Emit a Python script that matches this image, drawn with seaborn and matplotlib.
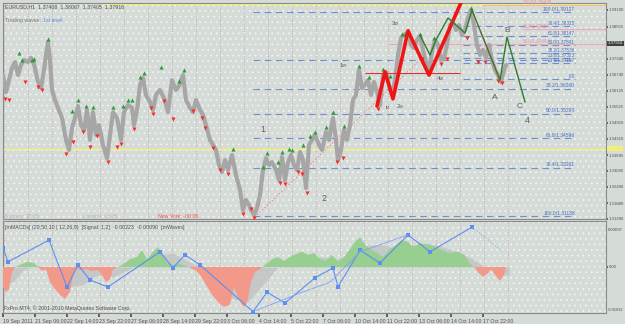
import numpy as np
import pandas as pd
import matplotlib
matplotlib.use('Agg')
import matplotlib.pyplot as plt
import seaborn as sns

# ---- price (EURUSD H1), bar index vs price ----
price_bar = [0, 3, 6, 9, 12, 15, 18, 21, 25, 28, 31, 35, 38, 41, 43, 45, 47, 49, 52, 55,
             59, 63, 66, 69, 72, 75, 78, 81, 84, 87, 90, 93, 96, 100, 104, 107, 110, 114, 118, 121,
             125, 129, 131, 134, 137, 140, 143, 147, 150, 153, 157, 161, 165, 169, 173, 176, 180, 183, 187, 190,
             193, 197, 200, 203, 207, 210, 213, 216, 219, 222, 225, 229, 233, 237, 240, 243, 246, 248, 251, 254,
             257, 260, 263, 266, 269, 273, 276, 279, 282, 285, 288, 291, 294, 297, 300, 303, 306, 309, 312, 316,
             319, 323, 326, 330, 333, 335, 338, 341, 344, 347, 350, 353, 356, 359, 362, 365, 368, 371, 374, 377,
             380, 383, 386, 389, 392, 395, 398, 401, 405, 408, 411, 414, 417, 420, 423, 426, 429, 432, 435, 438,
             441, 444, 447, 450, 453, 456, 459, 462, 465, 468, 471, 474, 477, 480, 483, 486, 489, 492, 495, 498,
             501, 503]
price_val = [1.3672, 1.3608, 1.3653, 1.3699, 1.3721, 1.3672, 1.3710, 1.3729, 1.3721, 1.3737, 1.3714, 1.3646, 1.3623, 1.3691, 1.3748, 1.3797, 1.3729, 1.3616, 1.3578, 1.3548,
             1.3510, 1.3427, 1.3389, 1.3472, 1.3510, 1.3555, 1.3483, 1.3464, 1.3540, 1.3427, 1.3532, 1.3446, 1.3483, 1.3408, 1.3358, 1.3446, 1.3532, 1.3510, 1.3427, 1.3532,
             1.3559, 1.3548, 1.3483, 1.3540, 1.3635, 1.3661, 1.3597, 1.3570, 1.3540, 1.3597, 1.3616, 1.3585, 1.3532, 1.3653, 1.3616, 1.3631, 1.3672, 1.3578, 1.3548, 1.3532,
             1.3578, 1.3540, 1.3521, 1.3483, 1.3427, 1.3408, 1.3389, 1.3332, 1.3306, 1.3351, 1.3313, 1.3370, 1.3294, 1.3238, 1.3162, 1.3200, 1.3181, 1.3162, 1.3143, 1.3170,
             1.3219, 1.3313, 1.3358, 1.3332, 1.3343, 1.3313, 1.3275, 1.3362, 1.3275, 1.3343, 1.3370, 1.3332, 1.3313, 1.3381, 1.3351, 1.3245, 1.3408, 1.3427, 1.3446, 1.3408,
             1.3389, 1.3457, 1.3427, 1.3510, 1.3427, 1.3351, 1.3389, 1.3464, 1.3427, 1.3483, 1.3578, 1.3597, 1.3691, 1.3623, 1.3635, 1.3653, 1.3597, 1.3646, 1.3608, 1.3559,
             1.3672, 1.3684, 1.3635, 1.3597, 1.3653, 1.3748, 1.3812, 1.3823, 1.3835, 1.3786, 1.3774, 1.3805, 1.3820, 1.3767, 1.3721, 1.3691, 1.3759, 1.3805, 1.3786, 1.3729,
             1.3737, 1.3786, 1.3861, 1.3873, 1.3842, 1.3861, 1.3823, 1.3842, 1.3888, 1.3918, 1.3861, 1.3786, 1.3748, 1.3767, 1.3737, 1.3786, 1.3729, 1.3691, 1.3672, 1.3646,
             1.3691, 1.3710]

# fractal arrows
up_bar = [16, 19, 29, 31, 45, 69, 75, 83, 90, 110, 120, 125, 129, 137, 141, 158, 176, 181, 230, 260,
          264, 275, 279, 286, 289, 300, 307, 312, 323, 330, 341, 356, 366, 380, 387, 399, 402, 405, 417, 431, 468]
up_val = [1.3752, 1.3725, 1.3725, 1.3729, 1.3805, 1.3532, 1.3574, 1.3551, 1.3548, 1.3548, 1.3551, 1.3574, 1.3574, 1.3661, 1.3676, 1.3699, 1.3646, 1.3687, 1.3389, 1.3321,
          1.3374, 1.3340, 1.3378, 1.3389, 1.3385, 1.3404, 1.3438, 1.3453, 1.3472, 1.3529, 1.3476, 1.3703, 1.3661, 1.3691, 1.3665, 1.3824, 1.3824, 1.3839, 1.3824, 1.3808, 1.3922]
dn_bar = [2, 6, 22, 35, 39, 63, 70, 80, 87, 94, 105, 114, 118, 131, 148, 150, 161, 170, 190, 199,
          202, 210, 217, 225, 240, 248, 251, 277, 282, 295, 299, 304, 334, 340, 375, 419, 438, 444, 464, 475, 482, 495, 499]
dn_val = [1.3585, 1.3581, 1.3650, 1.3631, 1.3619, 1.3378, 1.3423, 1.3461, 1.3404, 1.3446, 1.3347, 1.3404, 1.3415, 1.3472, 1.3551, 1.3529, 1.3578, 1.3510, 1.3540, 1.3514,
          1.3476, 1.3400, 1.3317, 1.3302, 1.3151, 1.3170, 1.3136, 1.3268, 1.3264, 1.3309, 1.3302, 1.3230, 1.3347, 1.3362, 1.3548, 1.3737, 1.3718, 1.3737, 1.3816, 1.3725, 1.3725, 1.3653, 1.3646]

# wave lines
red_wave_bar = [374, 382, 390, 405, 426, 460]
red_wave_val = [1.3555, 1.3684, 1.3582, 1.3839, 1.3672, 1.3963]
green_wave_bar = [417, 427, 433, 445, 462, 469, 497, 504, 522]
green_wave_val = [1.3823, 1.3748, 1.3805, 1.3888, 1.3831, 1.3918, 1.3653, 1.3816, 1.3570]
trend_bar = [252, 417]
trend_val = [1.3136, 1.3729]

# fibonacci levels
fib1_val = [1.3910, 1.3729, 1.3620, 1.3525, 1.3434, 1.3321, 1.3139]
fib1_lab = ['100.0/1.39127', '', '38.2/1.36280', '50.0/1.35290', '61.8/1.34596', '76.4/1.33261', '100.0/1.31138']
fib2_val = [1.3857, 1.3820, 1.3786, 1.3755, 1.3737, 1.3718, 1.3657]
fib2_lab = ['76.4/1.38325', '61.8/1.38147', '50.0/1.37841', '38.2/1.37536', '23.6/1.37323', '23.6/1.37157', '0.0']
pink_val = [1.3937, 1.3846, 1.3790]
pink_lab = ['100.0/1.39435', '61.8/1.38650', '50.0/1.37843']

price_ticks = [1.39190, 1.38555, 1.37340, 1.36740, 1.36125, 1.35525, 1.34910,
               1.34310, 1.33695, 1.33095, 1.32490, 1.31880, 1.31280]
time_labels = ['19 Sep 2011', '21 Sep 06:00', '22 Sep 14:00', '23 Sep 22:00', '27 Sep 06:00',
               '28 Sep 14:00', '29 Sep 22:00', '3 Oct 06:00', '4 Oct 14:00', '5 Oct 22:00',
               '7 Oct 06:00', '10 Oct 14:00', '11 Oct 22:00', '13 Oct 06:00', '14 Oct 14:00', '17 Oct 22:00']

# ---- oscillator window (values in pips) ----
macd_bar = [0, 3, 6, 9, 12, 19, 25, 31, 35, 39, 43, 47, 52, 57, 62, 67, 70, 73, 77, 83,
            89, 95, 99, 103, 107, 110, 115, 122, 127, 134, 139, 144, 150, 155, 160, 164, 169, 177, 185, 192,
            197, 203, 209, 215, 221, 227, 231, 235, 240, 244, 248, 252, 257, 263, 269, 275, 281, 287, 293, 299,
            305, 311, 317, 323, 329, 335, 341, 347, 352, 357, 362, 367, 374, 380, 387, 393, 399, 405, 410, 417,
            425, 433, 440, 447, 455, 461, 467, 471, 475, 480, 485, 488, 492, 497, 501, 503]
macd_val = [-46, -58, -51, -12, 0, 7, 12, 9, 0, -9, -5, -35, -51, -64, -74, -58, -18, 0, -7, -5,
            -9, -7, -18, -35, -28, -5, 0, 9, 18, 23, 39, 18, 35, 46, 28, 9, 5, 7, 0, -7,
            -18, -41, -64, -81, -92, -87, -46, -69, -92, -83, -35, -12, -5, 7, 18, 23, 14, 23, 30, 35,
            28, 32, 18, 14, 28, 12, 23, 41, 58, 69, 51, 41, 32, 23, 41, 51, 62, 58, 46, 55,
            51, 46, 37, 32, 35, 28, 7, 0, -12, -23, -14, -5, -18, -32, -18, 0]
signal_bar = [0, 10, 20, 35, 50, 65, 80, 95, 110, 125, 140, 155, 170, 185, 200, 215, 230, 245, 260, 275,
              290, 305, 320, 335, 350, 365, 380, 395, 410, 425, 440, 455, 470, 485, 500, 506]
signal_val = [-35, -35, -7, 5, -18, -46, -41, -18, -23, -7, 12, 28, 32, 14, -7, -46, -74, -80, -41, 0,
              14, 23, 23, 18, 28, 51, 51, 41, 51, 55, 46, 35, 18, -5, -18, -18]
waves_bar = [0, 5, 46, 64, 75, 87, 105, 157, 170, 182, 197, 250, 264, 282, 312, 330, 335, 357, 377, 405, 427, 469]
waves_val = [44, 12, 62, -46, 5, -30, -46, 35, -2, 28, 5, -103, -58, -83, -25, -2, -46, 39, 9, 74, 35, 92]
waves2_bar = [250, 297, 327, 357, 405]
waves2_val = [-103, -60, -35, 35, 74]
waves_proj_bar = [469, 500]
waves_proj_val = [92, 35]

bg = '#d5dbd7'
txt = '#505050'
fib_col = '#6f8fd0'
fs = 3.8
fs_r = 3.1   # right price scale

sns.set_theme(style='white')
plt.rcParams['font.family'] = ['Liberation Sans Narrow', 'Liberation Sans', 'DejaVu Sans']
plt.rcParams['hatch.linewidth'] = 0.6

fig = plt.figure(figsize=(6.25, 3.24), dpi=100)
fig.patch.set_facecolor(bg)


def px_axes(x0, y0, x1, y1):
    return fig.add_axes([x0 / 625, 1 - y1 / 324, (x1 - x0) / 625, (y1 - y0) / 324])


ax = px_axes(3, 3, 606, 219)
ax2 = px_axes(3, 221, 606, 313)

for a in (ax, ax2):
    a.set_facecolor(bg)
    a.set_xlim(0, 603)
    a.add_patch(plt.Rectangle((0, 0), 1, 1, transform=a.transAxes, facecolor='none',
                              edgecolor='#f2f4f3', hatch='...', lw=0, zorder=0))
    for s in a.spines.values():
        s.set_color('#8a8a8a')
        s.set_linewidth(0.8)
    # daily separators
    for d in range(1, 510, 24):
        a.axvline(d, color='#c99aa6', lw=0.6, ls=(0, (1, 2)), zorder=1)

ax.set_ylim(1.3128, 1.39445)

# fib levels
ax.hlines(fib1_val, 250, 572, color=fib_col, lw=0.8, ls=(0, (6, 4)), zorder=2)
for v, l in zip(fib1_val, fib1_lab):
    ax.text(572, v + 0.0002, l, fontsize=3.6, color='#4a6fc0', ha='right', va='bottom', zorder=3)
ax.hlines(fib2_val, 460, 572, color=fib_col, lw=0.8, ls=(0, (6, 4)), zorder=2)
for v, l in zip(fib2_val, fib2_lab):
    ax.text(572, v + 0.0001, l, fontsize=3.3, color='#4a6fc0', ha='right', va='bottom', zorder=3)
ax.hlines(pink_val, [480, 520, 385], 603, color='#f2a7b8', lw=0.8, zorder=2)
for v, l in zip(pink_val, pink_lab):
    ax.text(520, v + 0.0001, l, fontsize=3.3, color='#e890a4', ha='left', va='bottom', zorder=3)

ax.axhline(1.3393, color='#f5f07a', lw=1.0, zorder=2)
ax.hlines(1.3942, 100, 603, color='#f5f07a', lw=1.0, zorder=2)

# price
sns.lineplot(x=price_bar, y=price_val, ax=ax, color='#a6a6a6', lw=3.0, zorder=4)
sns.scatterplot(x=up_bar, y=np.array(up_val) + 0.0004, ax=ax, marker='^', color='#2f9a3a',
                s=9, linewidth=0, zorder=6)
sns.scatterplot(x=dn_bar, y=np.array(dn_val) - 0.0004, ax=ax, marker='v', color='#f03030',
                s=9, linewidth=0, zorder=6)

# waves
sns.lineplot(x=trend_bar, y=trend_val, ax=ax, color='#f07a8a', lw=0.8, ls=(0, (1, 2)), zorder=5)
ax.hlines(1.3680, 362, 457, color='#e03030', lw=0.8, zorder=5)
sns.lineplot(x=red_wave_bar, y=red_wave_val, ax=ax, color='#f01515', lw=2.6, zorder=7,
             sort=False)
sns.lineplot(x=green_wave_bar, y=green_wave_val, ax=ax, color='#2e7d2e', lw=1.0, zorder=8,
             sort=False)
sns.lineplot(x=green_wave_bar[5:7], y=green_wave_val[5:7], ax=ax, color='#b04040', lw=0.7,
             ls=(0, (1, 1.5)), zorder=8)

for x, v, s, f in [(260, 1.3465, '1', 6.5), (321, 1.3204, '2', 6.5), (524, 1.3502, '4', 6.5),
                   (392, 1.3867, '3w', 4), (340, 1.3707, '1w', 4), (397, 1.3555, '2w', 4),
                   (437, 1.3660, '4w', 4), (385, 1.3551, 'iv', 4),
                   (492, 1.3589, 'A', 6), (504, 1.3839, 'B', 6), (517, 1.3555, 'C', 6)]:
    ax.text(x, v, s, fontsize=f, color='#606060', ha='center', va='center', zorder=9)

ax.text(2, 1.3931, 'EURUSD,H1  1.37408  1.38067  1.37405  1.37916', fontsize=fs, color=txt,
        va='center')
ax.text(2, 1.3878, 'Trading waves:', fontsize=fs, color='#7a7a7a', va='center')
ax.text(40, 1.3878, '1st level', fontsize=fs, color='#5b8ee0', va='center')
ax.text(2, 1.3136, 'Sydney: 15:05', fontsize=fs, color='#b4b4b4', va='center')
ax.text(80, 1.3136, 'London: 13:05', fontsize=fs, color='#b4b4b4', va='center')
ax.text(155, 1.3136, 'New York: -00:05', fontsize=fs, color='#f05050', va='center')

ax.yaxis.tick_right()
ax.set_yticks(price_ticks)
ax.set_yticklabels(['%.5f' % t for t in price_ticks])
ax.tick_params(axis='y', labelsize=fs_r, colors=txt, length=1.5, pad=0.5)
ax.set_xticks([])
ax.set_xlabel('')
ax.set_ylabel('')

# current price / line markers
ax.text(1.003, (1.37916 - 1.3128) / (1.39445 - 1.3128), '1.37916', transform=ax.transAxes,
        fontsize=fs_r, color='white', va='center', ha='left',
        bbox=dict(boxstyle='square,pad=0.1', fc='#404040', ec='none'))
ax.text(1.003, (1.3393 - 1.3128) / (1.39445 - 1.3128), '1.33930', transform=ax.transAxes,
        fontsize=fs_r, color='#ece46a', va='center', ha='left',
        bbox=dict(boxstyle='square,pad=0.1', fc='#f5f07a', ec='none'))

# ---- oscillator ----
mb = np.array(macd_bar)
mv = np.array(macd_val, dtype=float)
ax2.set_ylim(-106, 106)
ax2.fill_between(signal_bar, 0, signal_val, color='#bfc3c3', alpha=0.8, lw=0, zorder=2)
ax2.fill_between(mb, 0, mv, where=mv >= 0, interpolate=True, color='#96cf8f', lw=0, zorder=3)
ax2.fill_between(mb, 0, mv, where=mv <= 0, interpolate=True, color='#f3998a', lw=0, zorder=3)
sns.lineplot(x=waves_bar, y=waves_val, ax=ax2, color='#5d8ef0', lw=0.8, sort=False, zorder=5,
             marker='s', markersize=2.5, markeredgewidth=0)
sns.lineplot(x=waves2_bar, y=waves2_val, ax=ax2, color='#7ea4f0', lw=0.6, sort=False, zorder=5)
sns.lineplot(x=waves_proj_bar, y=waves_proj_val, ax=ax2, color='#7ea4f0', lw=0.7, ls=(0, (1, 2)),
             zorder=5)
ax2.text(2, 92, '[mMACDs] (20,50,10 | 12,26,9)  [Signal: 1,2]  -0.00223  -0.00090  [mWaves]',
         fontsize=fs, color=txt, va='center')
ax2.text(1, -96, 'FxPro MT4, \u00a9 2001-2010 MetaQuotes Software Corp.', fontsize=fs,
         color=txt, va='center')

ax2.yaxis.tick_right()
ax2.set_yticks([0])
ax2.set_yticklabels(['0.00'])
ax2.tick_params(axis='y', labelsize=fs_r, colors=txt, length=1.5, pad=0.5)
ax2.text(1.003, 0.9, '0.00697', transform=ax2.transAxes, fontsize=fs_r, color=txt, va='center')
ax2.text(1.003, 0.03, '-0.01032', transform=ax2.transAxes, fontsize=2.9, color=txt, va='center')
ax2.set_xticks(list(range(0, 32 * len(time_labels), 32)))
ax2.set_xticklabels(time_labels, ha='left')
ax2.tick_params(axis='x', labelsize=fs, colors=txt, length=3, pad=1, bottom=True)
ax2.set_xlabel('')
ax2.set_ylabel('')

fig.savefig('out.png', dpi=100, facecolor=bg)
